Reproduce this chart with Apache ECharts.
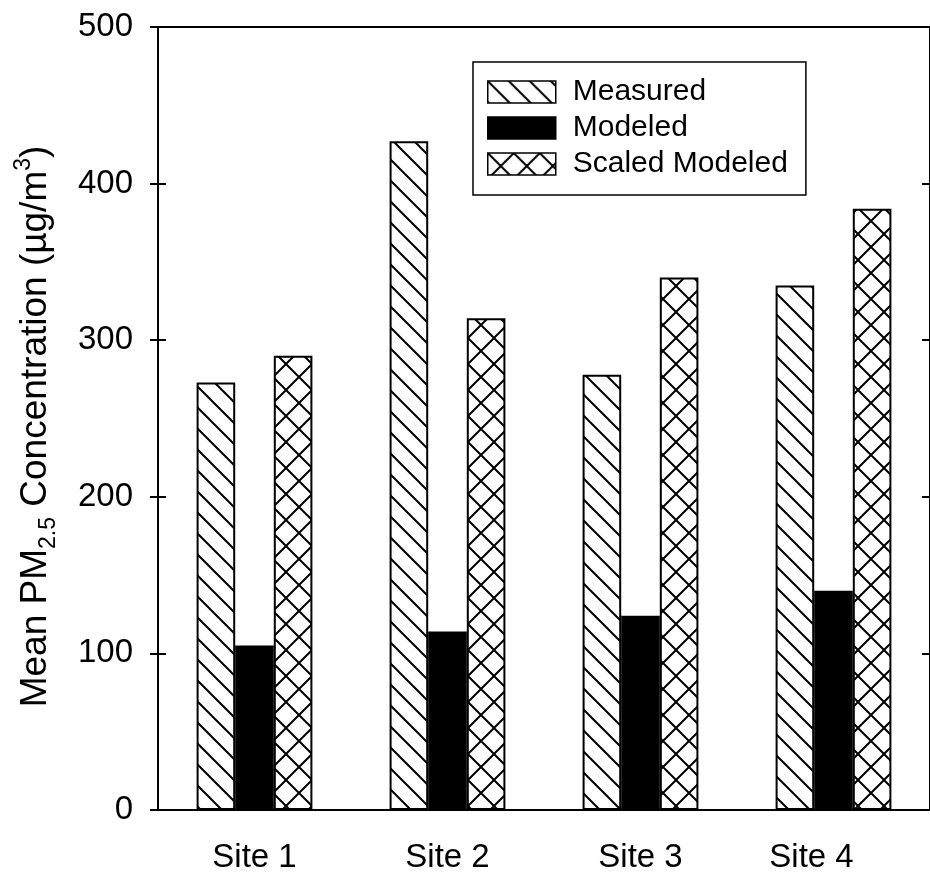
<!DOCTYPE html>
<html>
<head>
<meta charset="utf-8">
<script src="https://cdn.jsdelivr.net/npm/echarts@6/dist/echarts.min.js"></script>
<style>
  html, body { margin: 0; padding: 0; background: #fff; }
  #chart { width: 930px; height: 874px; }
</style>
</head>
<body>
<div id="chart"></div>
<script>
// Mean PM2.5 concentration at each site
const sites = ['Site 1', 'Site 2', 'Site 3', 'Site 4'];
const measured = [273, 427, 278, 335];
const modeled = [105, 114, 124, 140];
const scaledModeled = [290, 314, 340, 384];
const seriesNames = ['Measured', 'Modeled', 'Scaled Modeled'];
const yTicks = { min: 0, max: 500, step: 100 };

const FONT = '"Liberation Sans", Arial, sans-serif';

// Hatch fills drawn on small repeating canvases
function hatchTile(size, dirs, lineWidth) {
  const c = document.createElement('canvas');
  c.width = size; c.height = size;
  const ctx = c.getContext('2d');
  ctx.fillStyle = '#fff';
  ctx.fillRect(0, 0, size, size);
  ctx.strokeStyle = '#000';
  ctx.lineWidth = lineWidth;
  ctx.lineCap = 'square';
  ctx.beginPath();
  for (let k = -1; k <= 1; k++) {
    if (dirs.includes('back')) {          // "\" lines
      ctx.moveTo(k * size, 0);
      ctx.lineTo(k * size + size, size);
    }
    if (dirs.includes('fwd')) {           // "/" lines
      ctx.moveTo(k * size, size);
      ctx.lineTo(k * size + size, 0);
    }
  }
  ctx.stroke();
  return c;
}

const diagFill = { image: hatchTile(21, ['back'], 2), repeat: 'repeat' };
const crossFill = { image: hatchTile(26, ['back', 'fwd'], 2), repeat: 'repeat' };

const chart = echarts.init(document.getElementById('chart'), null, { renderer: 'canvas' });

const barBorder = { borderColor: '#000', borderWidth: 2 };

const option = {
  backgroundColor: '#fff',
  animation: false,
  grid: {
    left: 158, top: 27, width: 778, height: 783,
    show: true, borderColor: '#000', borderWidth: 2, backgroundColor: 'transparent'
  },
  legend: {
    orient: 'vertical',
    left: 473, top: 62,
    icon: 'rect',
    itemWidth: 68, itemHeight: 22, itemGap: 6,
    padding: [15, 18, 16, 14],
    borderColor: '#000', borderWidth: 1.5,
    backgroundColor: '#fff',
    itemStyle: { borderColor: '#000', borderWidth: 1.5 },
    textStyle: { fontFamily: FONT, fontSize: 30, color: '#000', padding: [0, 0, 0, 12] },
    data: seriesNames
  },
  xAxis: {
    type: 'category',
    data: sites,
    axisLine: { lineStyle: { color: '#000', width: 2 } },
    axisTick: { alignWithLabel: true, length: 8, lineStyle: { color: '#000', width: 2 } },
    axisLabel: {
      margin: 31,
      formatter: function (v, i) {
        return i === sites.length - 1 ? '{shift|' + v + '}' : '{n|' + v + '}';
      },
      rich: {
        n: { fontFamily: FONT, fontSize: 33, color: '#000' },
        shift: { fontFamily: FONT, fontSize: 33, color: '#000', padding: [0, 44, 0, 0] }
      }
    },
    splitLine: { show: false }
  },
  yAxis: [
    {
      type: 'value',
      min: yTicks.min, max: yTicks.max, interval: yTicks.step,
      position: 'left',
      name: '{m|Mean PM}{sub|2.5}{m| Concentration (µg/m}{sup|3}{m|)}',
      nameLocation: 'middle',
      nameGap: 98,
      nameTextStyle: {
        padding: [0, 16, 0, 0],
        rich: {
          m: { fontFamily: FONT, fontSize: 37, color: '#000', lineHeight: 48 },
          sub: { fontFamily: FONT, fontSize: 23, color: '#000', lineHeight: 22, verticalAlign: 'bottom' },
          sup: { fontFamily: FONT, fontSize: 23, color: '#000', lineHeight: 22, verticalAlign: 'top' }
        }
      },
      axisLine: { show: true, lineStyle: { color: '#000', width: 2 } },
      axisTick: { show: true, length: 8, lineStyle: { color: '#000', width: 2 } },
      axisLabel: { fontFamily: FONT, fontSize: 33, color: '#000', margin: 25 },
      splitLine: { show: false }
    },
    {
      // inner half of the left ticks
      type: 'value',
      min: yTicks.min, max: yTicks.max, interval: yTicks.step,
      position: 'left',
      axisLine: { show: false },
      axisTick: { show: true, inside: true, length: 8, lineStyle: { color: '#000', width: 2 } },
      axisLabel: { show: false },
      splitLine: { show: false }
    },
    {
      // right frame ticks
      type: 'value',
      min: yTicks.min, max: yTicks.max, interval: yTicks.step,
      position: 'right',
      axisLine: { show: true, lineStyle: { color: '#000', width: 2 } },
      axisTick: { show: true, inside: true, length: 8, lineStyle: { color: '#000', width: 2 } },
      axisLabel: { show: false },
      splitLine: { show: false }
    }
  ],
  series: [
    {
      name: seriesNames[0], type: 'bar', data: measured,
      barGap: '0%', barCategoryGap: '40%',
      itemStyle: Object.assign({ color: diagFill }, barBorder)
    },
    {
      name: seriesNames[1], type: 'bar', data: modeled,
      barGap: '0%', barCategoryGap: '40%',
      itemStyle: Object.assign({ color: '#000' }, barBorder)
    },
    {
      name: seriesNames[2], type: 'bar', data: scaledModeled,
      barGap: '0%', barCategoryGap: '40%',
      itemStyle: Object.assign({ color: crossFill }, barBorder)
    }
  ]
};

chart.setOption(option);
</script>
</body>
</html>
